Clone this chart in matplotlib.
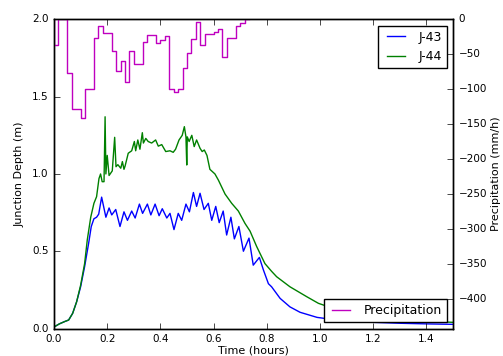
import matplotlib
matplotlib.use("Agg")
import matplotlib.pyplot as plt

plt.style.use("classic")
plt.rcParams["font.family"] = ["DejaVu Sans"]
plt.rcParams["font.size"] = 7.5

# Junction J-43 depth (m) vs time (hours)
j43_t = [0.0, 0.02, 0.04, 0.055, 0.07, 0.085, 0.10, 0.115, 0.13, 0.14, 0.15, 0.16,
         0.168, 0.179, 0.195, 0.207, 0.217, 0.232, 0.248, 0.263, 0.276, 0.292, 0.305,
         0.321, 0.333, 0.351, 0.364, 0.380, 0.395, 0.407, 0.424, 0.436, 0.451, 0.467,
         0.480, 0.496, 0.509, 0.524, 0.536, 0.549, 0.564, 0.580, 0.593, 0.608, 0.621,
         0.636, 0.649, 0.665, 0.678, 0.695, 0.712, 0.733, 0.749, 0.772, 0.787, 0.806,
         0.818, 0.850, 0.887, 0.925, 0.989, 1.05, 1.1, 1.2, 1.3, 1.4, 1.5]
j43_d = [0.01, 0.03, 0.045, 0.055, 0.098, 0.173, 0.27, 0.40, 0.55, 0.66, 0.71, 0.72,
         0.74, 0.85, 0.72, 0.78, 0.735, 0.77, 0.66, 0.755, 0.70, 0.76, 0.715,
         0.805, 0.745, 0.805, 0.735, 0.805, 0.73, 0.775, 0.715, 0.745, 0.64, 0.745,
         0.70, 0.805, 0.755, 0.88, 0.79, 0.875, 0.77, 0.81, 0.70, 0.79, 0.685,
         0.76, 0.605, 0.72, 0.58, 0.66, 0.50, 0.585, 0.41, 0.46, 0.38, 0.29,
         0.27, 0.195, 0.14, 0.105, 0.072, 0.058, 0.05, 0.04, 0.034, 0.03, 0.027]

# Junction J-44 depth (m) vs time (hours)
j44_t = [0.0, 0.02, 0.04, 0.055, 0.07, 0.085, 0.10, 0.115, 0.125, 0.138, 0.150, 0.160,
         0.169, 0.175, 0.181, 0.188, 0.192, 0.195, 0.200, 0.207, 0.219, 0.228, 0.233,
         0.240, 0.251, 0.257, 0.263, 0.267, 0.279, 0.292, 0.302, 0.307, 0.315, 0.323,
         0.332, 0.336, 0.345, 0.354, 0.367, 0.382, 0.392, 0.405, 0.420, 0.436, 0.448,
         0.457, 0.470, 0.482, 0.490, 0.496, 0.499, 0.501, 0.508, 0.518, 0.527, 0.536,
         0.549, 0.557, 0.565, 0.575, 0.586, 0.605, 0.618, 0.643, 0.668, 0.693, 0.718,
         0.737, 0.762, 0.793, 0.818, 0.837, 0.887, 0.95, 0.994, 1.05, 1.1, 1.2, 1.3,
         1.4, 1.5]
j44_d = [0.01, 0.03, 0.045, 0.055, 0.098, 0.173, 0.28, 0.42, 0.573, 0.72, 0.81, 0.853,
         0.97, 1.0, 0.95, 0.95, 1.37, 1.0, 1.12, 0.99, 1.02, 1.237, 1.047,
         1.06, 1.037, 1.08, 1.03, 1.05, 1.134, 1.15, 1.21, 1.15, 1.22, 1.16,
         1.267, 1.20, 1.23, 1.21, 1.20, 1.22, 1.18, 1.19, 1.145, 1.15, 1.14,
         1.16, 1.22, 1.25, 1.306, 1.24, 1.058, 1.24, 1.21, 1.25, 1.177, 1.22,
         1.166, 1.145, 1.155, 1.12, 1.03, 1.0, 0.96, 0.87, 0.81, 0.76, 0.68,
         0.63, 0.53, 0.42, 0.37, 0.335, 0.27, 0.206, 0.163, 0.13, 0.105, 0.075, 0.058,
         0.047, 0.04]

# Rainfall intensity (mm/h, plotted negative) at one-minute steps
precip_min = list(range(0, 45))
precip_val = [0, -37, 0, 0, -77, -128, -128, -141, -100, -100, -26, -9, -19, -19,
              -45, -74, -60, -89, -45, -64, -64, -33, -23, -23, -34, -29, -24,
              -100, -104, -100, -69, -48, -28, -4, -37, -21, -21, -18, -14, -54,
              -27, -27, -9, -5, 0]

fig = plt.figure(figsize=(5.03, 3.56), dpi=100, facecolor="white")
ax = fig.add_axes([0.1074, 0.0772, 0.7932, 0.8683])
ax.plot(j43_t, j43_d, color="b", lw=1.0, label="J-43")
ax.plot(j44_t, j44_d, color="g", lw=1.0, label="J-44")
ax.set_xlim(0, 1.5)
ax.set_ylim(0, 2.0)
ax.set_xticks([0.0, 0.2, 0.4, 0.6, 0.8, 1.0, 1.2, 1.4])
ax.set_yticks([0.0, 0.5, 1.0, 1.5, 2.0])
ax.set_xlabel("Time (hours)", fontsize=8, labelpad=1)
ax.set_ylabel("Junction Depth (m)", fontsize=8)
ax.tick_params(labelsize=7.5)
ax.legend(loc="upper right", fontsize=9, numpoints=2, fancybox=False)

ax2 = ax.twinx()
ax2.plot([m / 60 for m in precip_min], precip_val, color="m", lw=1.0,
         drawstyle="steps-pre", label="Precipitation")
ax2.set_ylim(-443, 0)
ax2.set_yticks(list(range(-400, 1, 50)))
ax2.set_xlim(0, 1.5)
ax2.set_ylabel("Precipitation (mm/h)", fontsize=8, labelpad=3)
ax2.tick_params(labelsize=7.5)
ax2.legend(loc="lower right", fontsize=9, numpoints=2, fancybox=False)

fig.savefig("out.png", dpi=100, facecolor="white")
